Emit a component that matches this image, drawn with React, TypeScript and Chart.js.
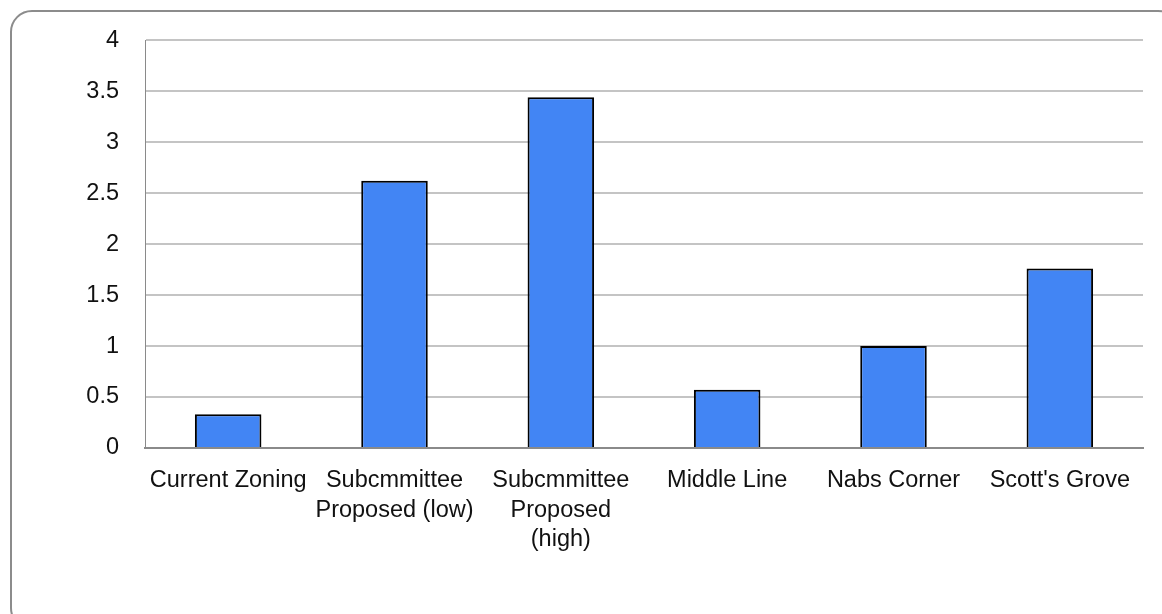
import React, { useEffect, useRef } from "react";
import { Chart, registerables } from "chart.js";

Chart.register(...registerables);

const categories: (string | string[])[] = [
  "Current Zoning",
  ["Subcmmittee", "Proposed (low)"],
  ["Subcmmittee", "Proposed", "(high)"],
  "Middle Line",
  "Nabs Corner",
  "Scott's Grove",
];
const values: number[] = [0.33, 2.62, 3.44, 0.57, 1.0, 1.76];
const yMin = 0;
const yMax = 4;
const yStep = 0.5;

export default function App() {
  const ref = useRef<HTMLCanvasElement | null>(null);
  useEffect(() => {
    if (!ref.current) return;
    const chart = new Chart(ref.current, {
      type: "bar",
      data: {
        labels: categories,
        datasets: [
          {
            data: values,
            backgroundColor: "#4285F4",
            borderColor: "#000000",
            borderWidth: 2,
            barPercentage: 0.4,
            categoryPercentage: 1,
          },
        ],
      },
      options: {
        animation: false,
        responsive: false,
        maintainAspectRatio: false,
        layout: { padding: { left: 0, right: 19, top: 40, bottom: 0 } },
        plugins: { legend: { display: false }, tooltip: { enabled: false } },
        scales: {
          x: {
            grid: { display: false, drawTicks: false },
            border: { display: true, color: "#8a8a8a", width: 2 },
            ticks: {
              color: "#111111",
              font: { family: "Liberation Sans", size: 23.5, lineHeight: 1.25 },
              padding: 18,
              maxRotation: 0,
              autoSkip: false,
            },
            afterFit: (s: any) => {
              s.height = 166;
            },
          },
          y: {
            min: yMin,
            max: yMax,
            grid: { color: "#c4c4c4", lineWidth: 2, drawTicks: false },
            border: { display: true, color: "#8a8a8a", width: 1 },
            ticks: {
              stepSize: yStep,
              color: "#111111",
              font: { family: "Liberation Sans", size: 23.5 },
              padding: 26,
              callback: (v: any) => String(Number(v)),
            },
            afterFit: (s: any) => {
              s.width = 145;
            },
          },
        },
      },
    });
    return () => chart.destroy();
  }, []);
  return (
    <div style={{ position: "fixed", left: 0, top: 0, width: 1162, height: 614, background: "#fff", overflow: "hidden" }}>
      <div
        style={{
          position: "absolute",
          left: 10,
          top: 10,
          width: 1170,
          height: 620,
          border: "2px solid #8c8c8c",
          borderRadius: 22,
          boxSizing: "border-box",
        }}
      />
      <canvas ref={ref} width={1162} height={614} style={{ position: "absolute", left: 0, top: 0 }} />
    </div>
  );
}
